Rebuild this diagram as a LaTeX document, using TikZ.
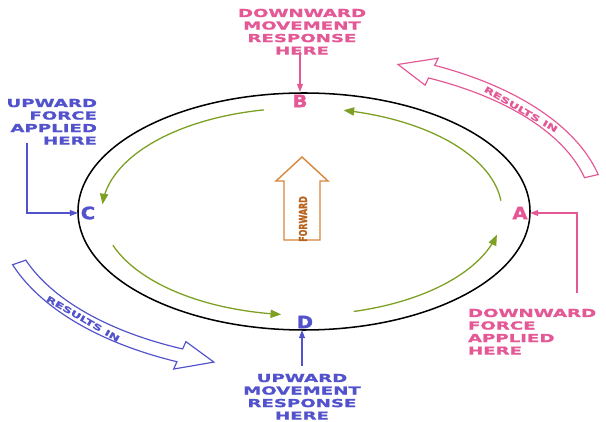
\documentclass[tikz,border=0pt]{standalone}
\usepackage{fontspec}
\setmainfont{DejaVu Sans}
\newfontfamily\widefont{DejaVu Sans Bold}[FakeStretch=1.65, FakeBold=1.2]
\newfontfamily\resfont{DejaVu Sans Bold}[FakeStretch=1.58, FakeBold=0.8]
\newfontfamily\narrowfont{DejaVu Sans Bold}[FakeStretch=0.72, FakeBold=1]
\newfontfamily\letfont{DejaVu Sans Bold}[FakeStretch=1.15, FakeBold=1.5]
\usetikzlibrary{arrows.meta}
\definecolor{pinkc}{RGB}{228,88,150}
\definecolor{bluec}{RGB}{82,82,205}
\definecolor{greenc}{RGB}{125,160,35}
\definecolor{orangec}{RGB}{215,135,60}
\definecolor{orangetxt}{RGB}{185,100,30}
\newcommand{\wtext}[2]{\widefont\fontsize{9.4}{10.7}\selectfont\begin{tabular}[t]{@{}#1@{}}#2\end{tabular}}
\begin{document}
\begin{tikzpicture}[x=0.03cm,y=0.03cm,
  txt/.style={inner sep=0pt, outer sep=0pt},
  lett/.style={inner sep=0pt, font=\letfont\fontsize{14.5}{14.5}\selectfont},
  ring/.style={line width=1.3pt},
  greenarc/.style={draw=greenc, line width=1.1pt, -{Triangle[length=9pt,width=7pt]}},
  ptr/.style={line width=1.2pt, -{Triangle[length=7pt,width=5pt]}},
  band/.style={line width=1pt, fill=white},
  restxt/.style={inner sep=0pt, font=\resfont\fontsize{7}{7}\selectfont}]
\useasboundingbox (0,0) rectangle (606,422);
\fill[white] (0,0) rectangle (606,422);

% main ring
\draw[ring] (304,210.5) ellipse [x radius=6.78cm, y radius=3.555cm];

% green cycle arcs
\draw[greenarc] plot[domain=-75:-13, samples=60] ({302+200*cos(\x)},{210.5+103.5*sin(\x)});
\draw[greenarc] plot[domain=6:78, samples=60] ({302+200*cos(\x)},{210.5+103.5*sin(\x)});
\draw[greenarc] plot[domain=101:176, samples=60] ({302+200*cos(\x)},{210.5+103.5*sin(\x)});
\draw[greenarc] plot[domain=199:264, samples=60] ({302+200*cos(\x)},{210.5+103.5*sin(\x)});

% letters
\node[lett, text=pinkc] (B) at (300,321) {B};
\node[lett, text=pinkc] (A) at (520,209) {A};
\node[lett, text=bluec] (C) at (88,209) {C};
\node[lett, text=bluec] (D) at (305,100) {D};

% top text and arrow
\node[txt, text=pinkc, anchor=base] (toptext) at (302,405) {\wtext{c}{DOWNWARD\\MOVEMENT\\RESPONSE\\HERE}};
\coordinate (tA) at (300,370);
\coordinate (tB) at (300,330);
\draw[ptr, pinkc] (tA) -- (tB);

% left text and arrow
\node[txt, text=bluec, anchor=base east] (lefttext) at (97,315) {\wtext{r}{UPWARD\\FORCE\\APPLIED\\HERE}};
\coordinate (l1) at (27,279);
\coordinate (l2) at (27,209);
\coordinate (l3) at (78,209);
\draw[ptr, bluec] (l1) -- (l2) -- (l3);

% right text and arrow
\node[txt, text=pinkc, anchor=base west] (righttext) at (468,105) {\wtext{l}{DOWNWARD\\FORCE\\APPLIED\\HERE}};
\coordinate (r1) at (577,129);
\coordinate (r2) at (577,209);
\coordinate (r3) at (530,209);
\draw[ptr, pinkc] (r1) -- (r2) -- (r3);

% bottom text and arrow
\node[txt, text=bluec, anchor=base] (bottext) at (302,40) {\wtext{c}{UPWARD\\MOVEMENT\\RESPONSE\\HERE}};
\coordinate (b1) at (302,56);
\coordinate (b2) at (302,92);
\draw[ptr, bluec] (b1) -- (b2);

% forward arrow
\draw[draw=orangec, line width=1.2pt, fill=white]
  (284,182) -- (320,182) -- (320,241) -- (328,241) -- (302,265) -- (276,241) -- (284,241) -- cycle;
\node[inner sep=0pt, rotate=90, text=orangetxt, font=\narrowfont\fontsize{9.4}{9.4}\selectfont] (fwd) at (303,203) {FORWARD};

% top-right "results in" band
\draw[band, draw=pinkc]
  plot[domain=13:64, samples=50] ({301+305*cos(\x)},{211+162*sin(\x)})
  -- ({301+313*cos(64)},{211+170*sin(64)})
  -- ({301+298*cos(71)},{211+155*sin(71)})
  -- ({301+283*cos(64)},{211+140*sin(64)})
  -- plot[domain=64:13, samples=50] ({301+291*cos(\x)},{211+148*sin(\x)})
  -- cycle;
\node[restxt, text=pinkc, rotate=-30] (res1) at ({301+296*cos(42)},{211+152*sin(42)}) {RESULTS IN};

% bottom-left "results in" band
\draw[band, draw=bluec]
  plot[domain=199:246, samples=50] ({301+305*cos(\x)},{211+165*sin(\x)})
  -- ({301+313*cos(246)},{211+173*sin(246)})
  -- ({301+298*cos(253)},{211+158*sin(253)})
  -- ({301+283*cos(246)},{211+143*sin(246)})
  -- plot[domain=246:199, samples=50] ({301+291*cos(\x)},{211+151*sin(\x)})
  -- cycle;
\node[restxt, text=bluec, rotate=-30] (res2) at ({301+298*cos(223)},{211+158*sin(223)}) {RESULTS IN};
\end{tikzpicture}
\end{document}
